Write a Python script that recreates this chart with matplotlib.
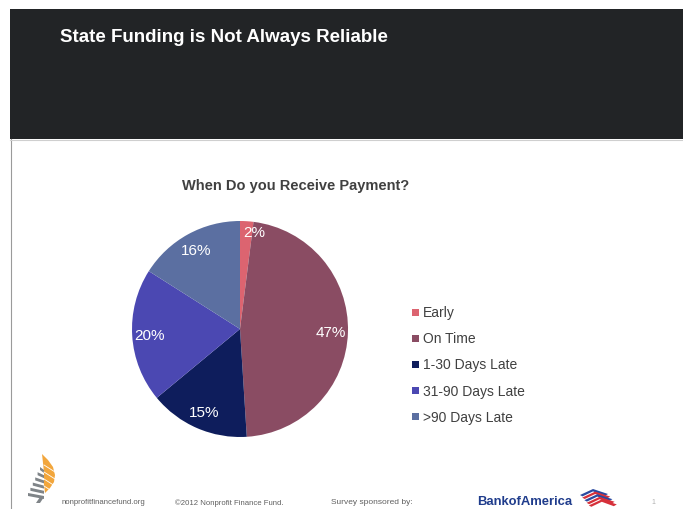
import matplotlib
matplotlib.use('Agg')
import matplotlib.pyplot as plt
from matplotlib.patches import Rectangle, Polygon

# 付款时间分布
categories = ['Early', 'On Time', '1-30 Days Late', '31-90 Days Late', '>90 Days Late']
shares = [2, 47, 15, 20, 16]
colors = ['#dc6470', '#8a4c63', '#0e1d5c', '#4b48b2', '#5b6fa1']

title = 'State Funding is Not Always Reliable'
subtitle = 'When Do you Receive Payment?'

W, H = 683, 510
plt.rcParams['font.family'] = ['Liberation Sans', 'DejaVu Sans']

fig = plt.figure(figsize=(W / 100, H / 100), dpi=100)
fig.patch.set_facecolor('white')

# 背景层：深色标题栏 + 左侧细线
bg = fig.add_axes([0, 0, 1, 1])
bg.set_xlim(0, W)
bg.set_ylim(H, 0)
bg.axis('off')
bg.add_patch(Rectangle((10, 10), W - 10, 130, facecolor='#222426', edgecolor='none'))
bg.plot([10.5, 10.5], [140, H], color='#9a9a9a', lw=0.8)
bg.plot([10, W], [140.5, 140.5], color='#cfcfcf', lw=0.8)
bg.text(60, 38, title, color='white', fontsize=13.5, fontweight='bold', va='center')
bg.text(296, 186, subtitle, color='#404040', fontsize=10.5, fontweight='bold',
        ha='center', va='center')

# 饼图
ax = fig.add_axes([(240 - 108) / W, (H - 330 - 108) / H, 216 / W, 216 / H])
wedges, _, autotexts = ax.pie(shares, colors=colors, startangle=90, counterclock=False,
                              autopct='%d%%', pctdistance=0.84,
                              wedgeprops=dict(edgecolor='none'),
                              textprops=dict(color='white', fontsize=11))
autotexts[0].set_position((0.13, 0.9))
ax.set_xlim(-1, 1)
ax.set_ylim(-1, 1)
ax.set_aspect('equal')

# 图例
for i, (name, c) in enumerate(zip(categories, colors)):
    y = 313 + i * 26.2
    bg.add_patch(Rectangle((412, y - 3.5), 7, 7, facecolor=c, edgecolor='none'))
    bg.text(423, y, name, color='#404040', fontsize=10, va='center')

# 页脚：基金会标志（橙色火焰 + 灰色台阶）
flame = [(42, 455), (48, 461), (53, 468), (55, 476), (54, 483), (50, 489), (45, 494),
         (44, 486), (44, 474), (43, 464)]
bg.add_patch(Polygon(flame, closed=True, facecolor='#f2a63c', edgecolor='none'))
for k in range(4):
    yk = 466 + k * 7
    bg.plot([44, 55], [yk, yk + 7], color='white', lw=0.6)
for k in range(6):
    y0 = 468 + k * 5.2
    left = 40 - k * 2.4
    bg.add_patch(Polygon([(left, y0), (44, y0 + 3), (44, y0 + 6), (left, y0 + 3)],
                         closed=True, facecolor='#7f8488', edgecolor='none'))
bg.add_patch(Polygon([(40, 498), (44, 498), (40, 504), (36, 504)],
                     closed=True, facecolor='#7f8488', edgecolor='none'))

bg.text(62, 503, 'nonprofitfinancefund.org', color='#606060', fontsize=5.6, va='center')
bg.text(175, 503, '\u00a92012 Nonprofit Finance Fund.', color='#606060', fontsize=5.6, va='center')
bg.text(331, 503, 'Survey sponsored by:', color='#606060', fontsize=6, va='center')
bg.text(477, 502, 'BankofAmerica', color='#1f3c8c', fontsize=9.4, fontweight='bold',
        va='center')

# 美国银行旗帜标志
for k, c in enumerate(['#2a4aa0', '#d6303a', '#2a4aa0', '#d6303a', '#d6303a']):
    xo = 580 + k * 2.2
    yo = 496 + k * 2.6
    bg.add_patch(Polygon([(xo, yo), (xo + 13, yo - 6), (xo + 28, yo - 1),
                          (xo + 25, yo + 0.8), (xo + 13, yo - 3.6), (xo + 2.5, yo + 1.4)],
                         closed=True, facecolor=c, edgecolor='none'))
bg.text(651, 503, '1', color='#b0b0b0', fontsize=5, va='center')

fig.savefig('out.png', dpi=100)
